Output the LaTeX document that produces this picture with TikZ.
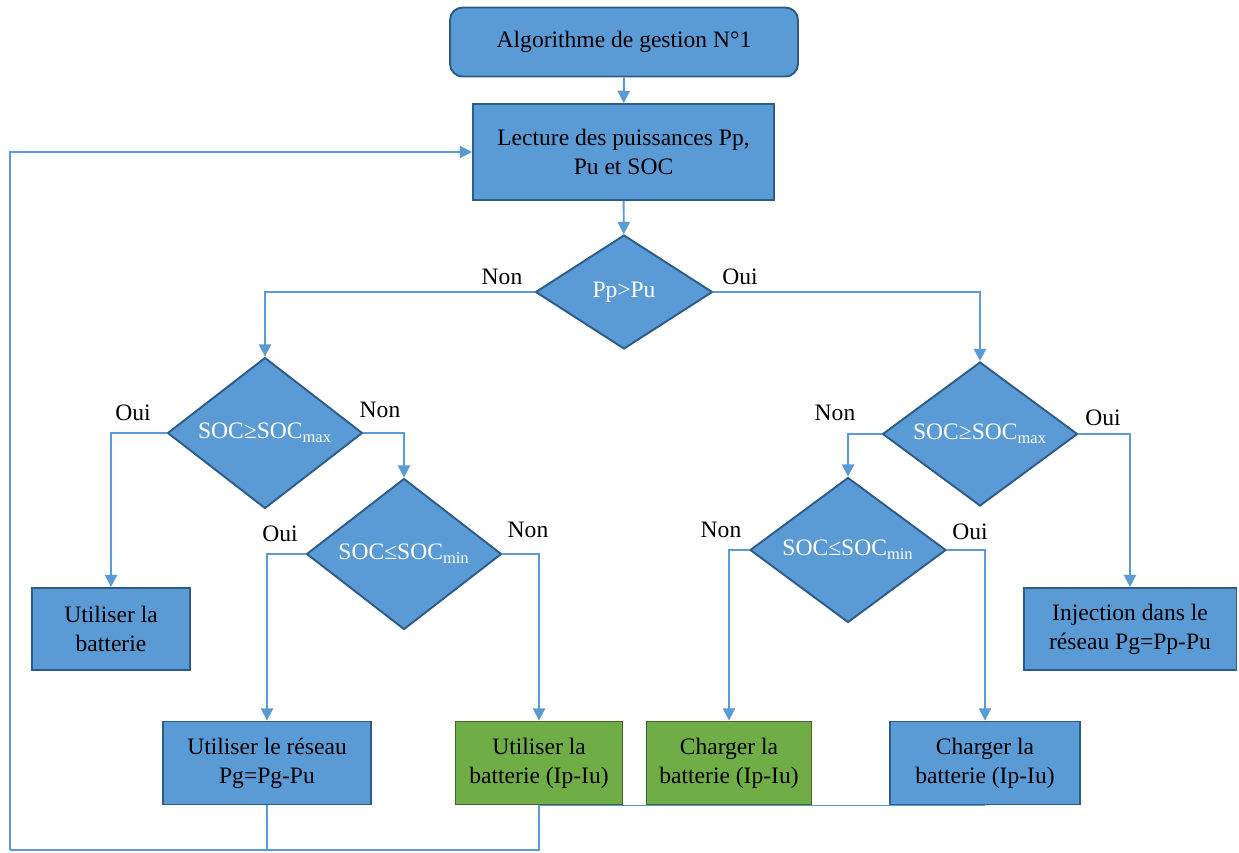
\documentclass[tikz,border=0pt]{standalone}
\usepackage{fontspec}
\setmainfont{Liberation Serif}
\usetikzlibrary{shapes.geometric, arrows.meta}
\definecolor{bleu}{HTML}{5B9BD5}
\definecolor{bleufonce}{HTML}{2E5C8A}
\definecolor{vert}{HTML}{70AD47}
\definecolor{vertfonce}{HTML}{41662A}

\begin{document}
\begin{tikzpicture}[
        x=0.02cm, y=-0.02cm,
        every node/.style={font=\fontsize{13.4}{16.5}\selectfont},
        bloc/.style={rectangle, draw=bleufonce, fill=bleu, line width=1.1pt, align=center, inner sep=2pt},
        blocvert/.style={bloc, draw=vertfonce, fill=vert},
        debut/.style={bloc, rounded corners=0.25cm},
        test/.style={diamond, aspect=1.4, draw=bleufonce, fill=bleu, line width=1.1pt, text=white, inner sep=0pt},
        lien/.style={draw=bleu, line width=1.1pt, -{Triangle[width=7pt,length=7pt]}},
        retour/.style={draw=bleu, line width=0.8pt},
        etiq/.style={inner sep=1pt}
    ]
    \useasboundingbox (0, 0) rectangle (1239, 852);

    % Debut
    \node[debut, minimum width=6.96cm, minimum height=1.38cm] (debut) at (624, 42) {Algorithme de gestion N°1};

    % Lecture des mesures
    \node[bloc, minimum width=6.02cm, minimum height=1.92cm] (lect) at (623.5, 152) {Lecture des puissances Pp,\\Pu et SOC};

    % Tests
    \node[test, minimum width=3.54cm, minimum height=2.28cm] (pp) at (624, 292) {Pp>Pu};
    \node[test, minimum width=3.9cm, minimum height=3.02cm] (smaxg) at (265, 433) {SOC≥SOC\textsubscript{max}};
    \node[test, minimum width=3.9cm, minimum height=3.02cm] (sming) at (404, 554) {SOC≤SOC\textsubscript{min}};
    \node[test, minimum width=3.9cm, minimum height=2.88cm] (smaxd) at (980, 434) {SOC≥SOC\textsubscript{max}};
    \node[test, minimum width=3.92cm, minimum height=2.9cm] (smind) at (848, 550) {SOC≤SOC\textsubscript{min}};

    % Actions
    \node[bloc, minimum width=3.16cm, minimum height=1.64cm] (bat) at (111, 629) {Utiliser la\\batterie};
    \node[bloc, minimum width=4.16cm, minimum height=1.66cm] (reseau) at (267, 763) {Utiliser le réseau\\Pg=Pg-Pu};
    \node[blocvert, minimum width=3.34cm, minimum height=1.66cm] (batg) at (539, 763) {Utiliser la\\batterie (Ip-Iu)};
    \node[blocvert, minimum width=3.3cm, minimum height=1.66cm] (chg1) at (729, 763) {Charger la\\batterie (Ip-Iu)};
    \node[bloc, minimum width=3.8cm, minimum height=1.66cm] (chg2) at (985, 763) {Charger la\\batterie (Ip-Iu)};
    \node[bloc, minimum width=4.26cm, minimum height=1.64cm] (inj) at (1130, 629) {Injection dans le\\réseau Pg=Pp-Pu};

    % Etiquettes
    \node[etiq] (n1) at (502, 277) {Non};
    \node[etiq] (o1) at (740, 277) {Oui};
    \node[etiq] (o2) at (133, 413) {Oui};
    \node[etiq] (n2) at (380, 410) {Non};
    \node[etiq] (o3) at (280, 534) {Oui};
    \node[etiq] (n3) at (528, 530) {Non};
    \node[etiq] (n4) at (835, 413) {Non};
    \node[etiq] (o4) at (1103, 418) {Oui};
    \node[etiq] (n5) at (721, 530) {Non};
    \node[etiq] (o5) at (970, 532) {Oui};

    % Liaisons
    \draw[lien] (debut) -- (lect);
    \draw[lien] (lect) -- (pp);
    \draw[lien] (pp.west) -| (smaxg.north);
    \draw[lien] (pp.east) -| (smaxd.north);
    \draw[lien] (smaxg.west) -| (bat.north);
    \draw[lien] (smaxg.east) -| (sming.north);
    \draw[lien] (sming.west) -| (reseau.north);
    \draw[lien] (sming.east) -| (batg.north);
    \draw[lien] (smaxd.west) -| (smind.north);
    \draw[lien] (smaxd.east) -| (inj.north);
    \draw[lien] (smind.west) -| (chg1.north);
    \draw[lien] (smind.east) -| (chg2.north);

    % Boucle de retour
    \coordinate (coin) at (10, 850);
    \draw[retour] (reseau.south) -- (reseau.south |- coin);
    \draw[retour] (chg2.south) -- (batg.south) |- (coin);
    \draw[lien] (coin) |- (lect.west);

\end{tikzpicture}
\end{document}
